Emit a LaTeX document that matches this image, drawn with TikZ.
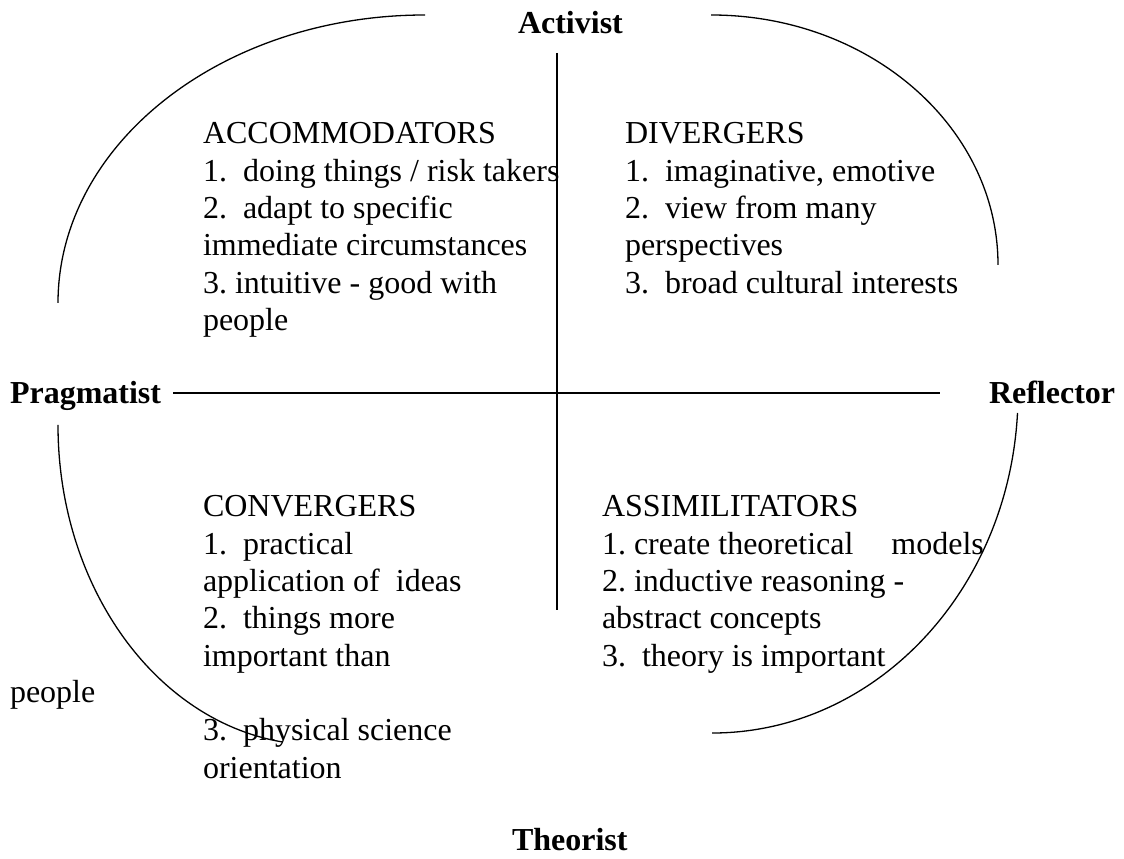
\documentclass[tikz,border=0pt]{standalone}
\usepackage{fontspec}
\setmainfont{Liberation Serif}
\begin{document}
\begin{tikzpicture}[x=1pt,y=1pt,
  every node/.style={inner sep=0pt, outer sep=0pt, anchor=base west},
  txt/.style={font=\fontsize{32}{37.3}\selectfont\frenchspacing},
  lbl/.style={font=\fontsize{32}{37.3}\selectfont\bfseries},
  stroke/.style={line width=1.3pt, draw=black}]
\useasboundingbox (0,0) rectangle (1124,859);

% axis labels
\node[lbl] (act)  at (518,825) {Activist};
\node[lbl] (theo) at (512,9)   {Theorist};
\node[lbl] (prag) at (10,455)  {Pragmatist};
\node[lbl] (refl) at (989,455) {Reflector};

% axes
\coordinate (vT) at (557,806);
\coordinate (vB) at (557,249);
\coordinate (hL) at (173,466);
\coordinate (hR) at (940,466);
\draw[stroke] (vT) -- (vB);
\draw[stroke] (hL) -- (hR);

% arcs
\coordinate (tlS) at (425,844);
\coordinate (trS) at (711,844);
\coordinate (brS) at (1017.5,446);
\coordinate (blS) at (58,434);
\draw[stroke] (tlS) arc[start angle=90, end angle=180, x radius=367pt, y radius=288pt];
\draw[stroke] (trS) arc[start angle=90, end angle=0, x radius=287pt, y radius=250pt];
\draw[stroke] (brS) arc[start angle=-3.37, end angle=-90, x radius=306pt, y radius=340pt];
\draw[stroke] (blS) arc[start angle=180, end angle=262.2, x radius=260pt, y radius=320pt];

% quadrant texts
\node[txt] (acc) at (203,715) {\begin{tabular}[t]{@{}l@{}}
ACCOMMODATORS\\
1.~ doing things / risk takers\\
2.~ adapt to specific\\
immediate circumstances\\
3. intuitive - good with\\
people\end{tabular}};

\node[txt] (div) at (625,715) {\begin{tabular}[t]{@{}l@{}}
DIVERGERS\\
1.~ imaginative, emotive\\
2.~ view from many\\
perspectives\\
3.~ broad cultural interests\end{tabular}};

\node[txt] (conv) at (203,342) {\begin{tabular}[t]{@{}l@{}}
CONVERGERS\\
1.~ practical\\
application of~ ideas\\
2.~ things more\\
important than\\
\\
3.~ physical science\\
orientation\end{tabular}};

\node[txt] (stray) at (10,156) {people};

\node[txt] (assim) at (602,342) {\begin{tabular}[t]{@{}l@{}}
ASSIMILITATORS\\
1. create theoretical\hspace*{38pt}models\\
2. inductive reasoning -\\
abstract concepts\\
3.~ theory is important\end{tabular}};
\end{tikzpicture}
\end{document}
